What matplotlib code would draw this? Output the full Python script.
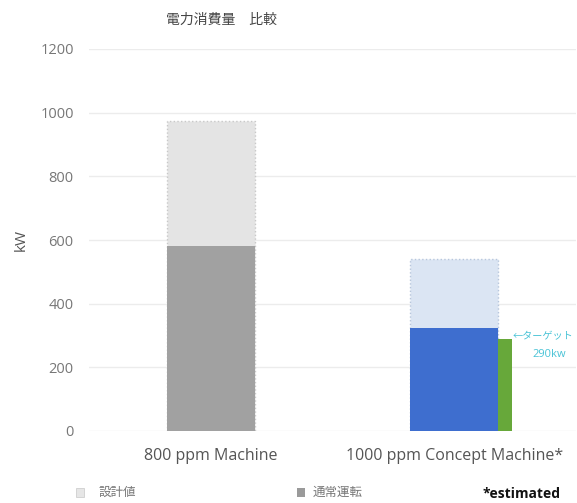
import matplotlib.pyplot as plt
from matplotlib.patches import Rectangle

plt.rcParams['font.family'] = ['Open Sans', 'Noto Sans CJK JP', 'DejaVu Sans']

# データ
categories = ['800 ppm Machine', '1000 ppm Concept Machine*']
design_kw = [975, 540]      # 設計値
normal_kw = [580, 325]      # 通常運転
target_kw = 290             # ターゲット
yticks = [0, 200, 400, 600, 800, 1000, 1200]

fig = plt.figure(figsize=(5.77, 5.03), dpi=100)
W, H = 577, 503
ax = fig.add_axes([89 / W, 1 - 431 / H, (576 - 89) / W, (431 - 49) / H])

xpos = [0, 1]
bw = 0.36
design_fc = ['#e4e4e4', '#dbe5f3']
design_ec = ['#c8c8c8', '#b7c6dc']
normal_c = ['#a1a1a1', '#3e6ecf']

for i, x in enumerate(xpos):
    ax.bar(x, design_kw[i], width=bw, color=design_fc[i], edgecolor=design_ec[i],
           linestyle=':', linewidth=1.0, zorder=2)
    ax.bar(x, normal_kw[i], width=bw, color=normal_c[i], zorder=3)

# ターゲット
gw = 0.057
gx = 1 + bw / 2 + gw / 2
ax.bar(gx, target_kw, width=gw, color='#67a83a', zorder=3)
ax.text(gx + gw / 2 + 0.002, target_kw + 5, '←ターゲット', color='#49c3d6', fontsize=7.3,
        ha='left', va='center', clip_on=False)
ax.text(1.39, target_kw - 50, '290kw', color='#49c3d6', fontsize=8,
        ha='center', va='center', clip_on=False)

ax.set_xlim(-0.5, 1.5)
ax.set_ylim(0, 1200)
ax.set_yticks(yticks)
ax.set_yticklabels([str(v) for v in yticks], color='#777777', fontsize=10.5)
ax.set_xticks(xpos)
ax.set_xticklabels(categories, color='#555555', fontsize=11.5)
ax.tick_params(axis='x', length=0, pad=12)
ax.tick_params(axis='y', length=0, pad=11)
ax.grid(axis='y', color='#ececec', linewidth=1, zorder=0)
for s in ax.spines.values():
    s.set_visible(False)
ax.set_ylabel('kW', color='#555555', fontsize=11, labelpad=8)

fig.text(222 / W, 1 - 20 / H, '電力消費量　比較', ha='center', va='center',
         fontsize=10, color='#444444')

# 凡例
fig.patches.append(Rectangle((76 / W, 1 - 497 / H), 8 / W, 9 / H, transform=fig.transFigure,
                             facecolor='#e6e6e6', edgecolor='#cfcfcf', linewidth=0.6))
fig.text(99 / W, 1 - 492 / H, '設計値', fontsize=9, color='#777777', va='center')
fig.patches.append(Rectangle((297 / W, 1 - 497 / H), 8 / W, 9 / H, transform=fig.transFigure,
                             facecolor='#9a9a9a', edgecolor='none'))
fig.text(313 / W, 1 - 492 / H, '通常運転', fontsize=9, color='#777777', va='center')
fig.text(483 / W, 1 - 501 / H, '*estimated', fontsize=10, color='#111111',
         fontweight='bold', va='bottom')

fig.savefig('out.png', dpi=100)
